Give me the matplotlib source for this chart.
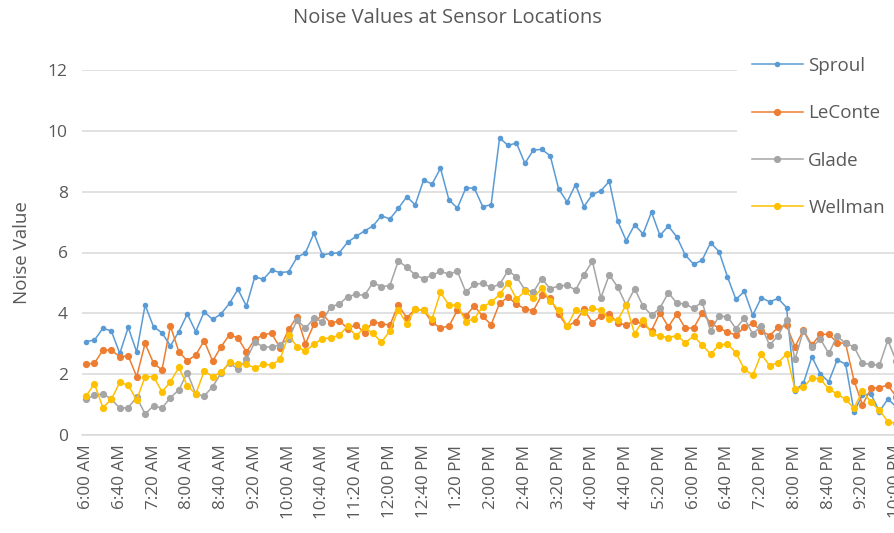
import matplotlib
matplotlib.use("Agg")
import matplotlib.pyplot as plt
import numpy as np
import pandas as pd

# ---- data ----
times = pd.date_range("2000-01-01 06:00", "2000-01-01 22:00", freq="10min")
categories = [t.strftime("%-I:%M %p") for t in times]

sproul = [3.07, 3.12, 3.51, 3.42, 2.68, 3.54, 2.73, 4.27, 3.56, 3.36,
          2.93, 3.40, 3.98, 3.40, 4.05, 3.80, 3.98, 4.33, 4.79, 4.24,
          5.20, 5.12, 5.42, 5.34, 5.37, 5.84, 5.99, 6.63, 5.92, 5.97,
          5.99, 6.34, 6.53, 6.71, 6.87, 7.21, 7.10, 7.45, 7.83, 7.57,
          8.38, 8.25, 8.77, 7.73, 7.46, 8.12, 8.12, 7.51, 7.57, 9.77,
          9.52, 9.60, 8.93, 9.37, 9.39, 9.18, 8.09, 7.66, 8.23, 7.51,
          7.91, 8.03, 8.34, 7.03, 6.39, 6.91, 6.61, 7.33, 6.56, 6.87,
          6.51, 5.92, 5.61, 5.75, 6.32, 6.03, 5.20, 4.46, 4.72, 3.94,
          4.51, 4.38, 4.49, 4.19, 1.46, 1.70, 2.57, 2.01, 1.75, 2.47,
          2.33, 0.77, 1.31, 1.35, 0.77, 1.18, 0.93]

leconte = [2.33, 2.36, 2.79, 2.79, 2.57, 2.60, 1.92, 3.01, 2.36, 2.14,
           3.58, 2.74, 2.44, 2.63, 3.10, 2.43, 2.90, 3.30, 3.19, 2.73,
           3.14, 3.30, 3.34, 2.86, 3.47, 3.89, 3.00, 3.64, 3.98, 3.67,
           3.76, 3.50, 3.62, 3.36, 3.73, 3.66, 3.61, 4.28, 3.85, 4.14,
           4.10, 3.70, 3.52, 3.58, 4.10, 3.92, 4.24, 3.90, 3.63, 4.33,
           4.53, 4.30, 4.15, 4.09, 4.60, 4.50, 3.97, 3.57, 3.73, 4.13,
           3.69, 3.91, 3.99, 3.67, 3.62, 3.75, 3.64, 3.43, 4.02, 3.56,
           3.98, 3.51, 3.52, 4.01, 3.69, 3.51, 3.39, 3.28, 3.54, 3.67,
           3.43, 3.27, 3.54, 3.61, 2.90, 3.45, 2.96, 3.31, 3.31, 3.04,
           3.01, 1.78, 0.99, 1.53, 1.56, 1.64, 1.26]

glade = [1.17, 1.31, 1.35, 1.18, 0.88, 0.90, 1.24, 0.69, 0.96, 0.88,
         1.23, 1.48, 2.05, 1.35, 1.28, 1.59, 2.03, 2.38, 2.16, 2.49,
         3.05, 2.90, 2.89, 2.97, 3.16, 3.78, 3.51, 3.84, 3.73, 4.22,
         4.30, 4.55, 4.62, 4.59, 5.01, 4.88, 4.91, 5.72, 5.52, 5.26,
         5.14, 5.25, 5.38, 5.29, 5.38, 4.70, 4.95, 4.99, 4.85, 4.95,
         5.40, 5.20, 4.78, 4.70, 5.14, 4.81, 4.90, 4.92, 4.77, 5.27,
         5.71, 4.51, 5.27, 4.86, 4.27, 4.81, 4.24, 3.94, 4.17, 4.68,
         4.33, 4.31, 4.16, 4.38, 3.42, 3.91, 3.89, 3.50, 3.84, 3.32,
         3.58, 2.95, 3.27, 3.78, 2.49, 3.43, 2.88, 3.16, 2.68, 3.25,
         3.01, 2.90, 2.36, 2.32, 2.29, 3.12, 2.43]

wellman = [1.28, 1.68, 0.90, 1.17, 1.73, 1.64, 1.15, 1.92, 1.92, 1.42,
           1.75, 2.22, 1.62, 1.35, 2.10, 1.92, 2.06, 2.39, 2.32, 2.32,
           2.21, 2.32, 2.30, 2.49, 3.29, 2.90, 2.76, 2.98, 3.17, 3.19,
           3.28, 3.58, 3.25, 3.54, 3.34, 3.05, 3.42, 4.12, 3.65, 4.14,
           4.10, 3.82, 4.69, 4.27, 4.27, 3.73, 3.82, 4.22, 4.36, 4.62,
           5.01, 4.47, 4.72, 4.50, 4.83, 4.41, 4.11, 3.57, 4.11, 4.04,
           4.16, 4.11, 3.81, 3.78, 4.28, 3.32, 3.78, 3.34, 3.25, 3.20,
           3.27, 3.04, 3.25, 2.96, 2.66, 2.96, 2.99, 2.71, 2.16, 1.97,
           2.66, 2.28, 2.38, 2.66, 1.51, 1.57, 1.88, 1.84, 1.51, 1.35,
           1.17, 0.88, 1.46, 1.07, 0.82, 0.44, 0.38]

series_names = ["Sproul", "LeConte", "Glade", "Wellman"]
series_values = [sproul, leconte, glade, wellman]
y_ticks = [0, 2, 4, 6, 8, 10, 12]
title = "Noise Values at Sensor Locations"
y_label = "Noise Value"

# ---- style ----
colors = ["#5B9BD5", "#ED7D31", "#A5A5A5", "#FFC000"]
msizes = [4.0, 5.2, 5.2, 5.2]
text_color = "#595959"
grid_color = "#D9D9D9"
FONT = ["Open Sans", "DejaVu Sans"]
plt.rcParams["font.family"] = FONT

fig = plt.figure(figsize=(8.94, 5.33), dpi=100)
left = 81.8 / 894
n = len(categories)
width = (n * 8.44) / 894
ax = fig.add_axes([left, 98 / 533, width, 365 / 533])

x = np.arange(n)
handles = []
for name, vals, c, ms in zip(series_names, series_values, colors, msizes):
    h, = ax.plot(x, vals, color=c, lw=1.1, marker="o", ms=ms,
                 markeredgewidth=0, label=name)
    handles.append(h)

ax.set_xlim(-0.5, n - 0.5)
ax.set_ylim(0, 12)
ax.set_yticks(y_ticks)
ax.set_yticklabels([str(v) for v in y_ticks])
ax.yaxis.grid(True, color=grid_color, lw=1.1)
ax.set_axisbelow(True)
for s in ["left", "right", "top"]:
    ax.spines[s].set_visible(False)
ax.spines["bottom"].set_color(grid_color)
ax.spines["bottom"].set_linewidth(1.1)

tick_pos = x[::4]
ax.set_xticks(tick_pos)
ax.set_xticklabels([categories[i] for i in tick_pos], rotation=90,
                   fontsize=12.3, color=text_color)
ax.tick_params(axis="x", length=0, pad=7)
ax.tick_params(axis="y", length=0, pad=10, labelsize=12.5, labelcolor=text_color)

ax.set_ylabel(y_label, fontsize=13.5, color=text_color, labelpad=12)
fig.text(0.5, 1 - 18 / 533, title, ha="center", va="center",
         fontsize=14.5, color=text_color)

leg = fig.legend(handles=handles, loc="upper left",
                 bbox_to_anchor=(737 / 894, 1 - 42 / 533),
                 frameon=True, fontsize=13.5, handlelength=2.7,
                 handletextpad=0.3, labelspacing=1.56, borderpad=0.8,
                 borderaxespad=0)
leg.get_frame().set_facecolor("white")
leg.get_frame().set_edgecolor("none")
leg.get_frame().set_alpha(1)
for t in leg.get_texts():
    t.set_color(text_color)

fig.savefig("out.png", dpi=100)
